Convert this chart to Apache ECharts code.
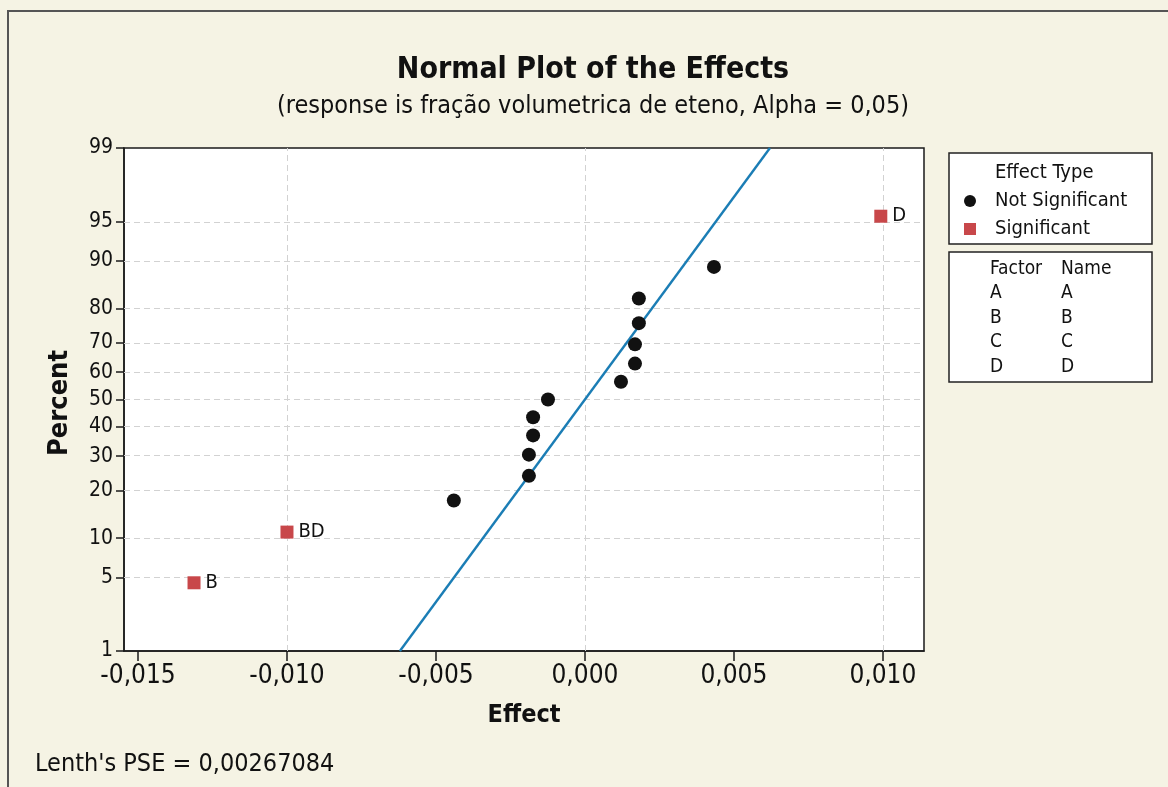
<!DOCTYPE html>
<html>
<head>
<meta charset="utf-8">
<script src="https://cdn.jsdelivr.net/npm/echarts@6/dist/echarts.min.js"></script>
<style>
html,body{margin:0;padding:0;background:#f5f3e4;}
#chart{width:1168px;height:787px;}
</style>
</head>
<body>
<div id="chart"></div>
<script>
// ---- data ----
const notSigEffects = [-0.0044, -0.00188, -0.00188, -0.00174, -0.00174, -0.00124, 0.00121, 0.00168, 0.00168, 0.00181, 0.00181, 0.00433];
const notSigPercents = [17.5, 24.0, 30.5, 37.0, 43.5, 50.0, 56.5, 63.0, 69.5, 76.0, 82.5, 89.0];
const sigNames = ['B', 'BD', 'D'];
const sigEffects = [-0.01312, -0.0100, 0.00993];
const sigPercents = [4.5, 11.0, 95.5];
const fitLineEffects = [-0.00621, 0.00621];
const fitLinePercents = [1, 99];
const yTickPercents = [1, 5, 10, 20, 30, 40, 50, 60, 70, 80, 90, 95, 99];
const xTickValues = [-0.015, -0.010, -0.005, 0.000, 0.005, 0.010];
const xGridValues = [-0.015, -0.0125, -0.010, -0.0075, -0.005, -0.0025, 0, 0.0025, 0.005, 0.0075, 0.010];
const factors = ['A', 'B', 'C', 'D'];
const factorNames = ['A', 'B', 'C', 'D'];
const lenthPSE = '0,00267084';

// inverse normal CDF (probability scale transform)
function probit(p) {
  const a = [-3.969683028665376e+01, 2.209460984245205e+02, -2.759285104469687e+02, 1.383577518672690e+02, -3.066479806614716e+01, 2.506628277459239e+00];
  const b = [-5.447609879822406e+01, 1.615858368580409e+02, -1.556989798598866e+02, 6.680131188771972e+01, -1.328068155288572e+01];
  const c = [-7.784894002430293e-03, -3.223964580411365e-01, -2.400758277161838e+00, -2.549732539343734e+00, 4.374664141464968e+00, 2.938163982698783e+00];
  const d = [7.784695709041462e-03, 3.224671290700398e-01, 2.445134137142996e+00, 3.754408661907416e+00];
  const pl = 0.02425;
  let q, r;
  if (p < pl) { q = Math.sqrt(-2 * Math.log(p)); return (((((c[0]*q+c[1])*q+c[2])*q+c[3])*q+c[4])*q+c[5]) / ((((d[0]*q+d[1])*q+d[2])*q+d[3])*q+1); }
  if (p > 1 - pl) { q = Math.sqrt(-2 * Math.log(1 - p)); return -(((((c[0]*q+c[1])*q+c[2])*q+c[3])*q+c[4])*q+c[5]) / ((((d[0]*q+d[1])*q+d[2])*q+d[3])*q+1); }
  q = p - 0.5; r = q * q;
  return (((((a[0]*r+a[1])*r+a[2])*r+a[3])*r+a[4])*r+a[5])*q / (((((b[0]*r+b[1])*r+b[2])*r+b[3])*r+b[4])*r+1);
}
const z = pct => probit(pct / 100);
const yTickZ = yTickPercents.map(z);

const FONT = '"DejaVu Sans Condensed", "DejaVu Sans", sans-serif';
const chart = echarts.init(document.getElementById('chart'));

const legendX = 949, legendW = 203;
const graphics = [
  { type: 'rect', shape: { x: 8, y: 11, width: 1180, height: 800 }, style: { fill: 'none', stroke: '#555', lineWidth: 2 }, silent: true },
  { type: 'text', x: 593, y: 70, style: { text: 'Normal Plot of the Effects', font: 'bold 30px ' + FONT, fill: '#111', align: 'center', verticalAlign: 'middle' } },
  { type: 'text', x: 593, y: 106, style: { text: '(response is fração volumetrica de eteno, Alpha = 0,05)', font: '25px ' + FONT, fill: '#111', align: 'center', verticalAlign: 'middle' } },
  { type: 'text', x: 60, y: 403, rotation: Math.PI / 2, style: { text: 'Percent', font: 'bold 27px ' + FONT, fill: '#111', align: 'center', verticalAlign: 'middle' } },
  { type: 'text', x: 524, y: 715, style: { text: 'Effect', font: 'bold 25px ' + FONT, fill: '#111', align: 'center', verticalAlign: 'middle' } },
  { type: 'text', x: 35, y: 764, style: { text: "Lenth's PSE = " + lenthPSE, font: '25px ' + FONT, fill: '#111', align: 'left', verticalAlign: 'middle' } },
  // legend box 1
  { type: 'rect', shape: { x: legendX, y: 153, width: legendW, height: 91 }, style: { fill: '#fff', stroke: '#222', lineWidth: 1.5 } },
  { type: 'text', x: 995, y: 173, style: { text: 'Effect Type', font: '20px ' + FONT, fill: '#111', verticalAlign: 'middle' } },
  { type: 'circle', shape: { cx: 970, cy: 201, r: 6 }, style: { fill: '#111' } },
  { type: 'text', x: 995, y: 201, style: { text: 'Not Significant', font: '20px ' + FONT, fill: '#111', verticalAlign: 'middle' } },
  { type: 'rect', shape: { x: 964, y: 223, width: 12, height: 12 }, style: { fill: '#c8474a' } },
  { type: 'text', x: 995, y: 229, style: { text: 'Significant', font: '20px ' + FONT, fill: '#111', verticalAlign: 'middle' } },
  // legend box 2
  { type: 'rect', shape: { x: legendX, y: 252, width: legendW, height: 130 }, style: { fill: '#fff', stroke: '#222', lineWidth: 1.5 } },
  { type: 'text', x: 990, y: 269, style: { text: 'Factor', font: '19px ' + FONT, fill: '#111', verticalAlign: 'middle' } },
  { type: 'text', x: 1061, y: 269, style: { text: 'Name', font: '19px ' + FONT, fill: '#111', verticalAlign: 'middle' } }
];
factors.forEach((f, i) => {
  graphics.push({ type: 'text', x: 990, y: 293 + i * 24.7, style: { text: f, font: '19px ' + FONT, fill: '#111', verticalAlign: 'middle' } });
  graphics.push({ type: 'text', x: 1061, y: 293 + i * 24.7, style: { text: factorNames[i], font: '19px ' + FONT, fill: '#111', verticalAlign: 'middle' } });
});

const gridLineStyle = { color: '#d2d2d2', type: [6, 4], width: 1 };

const option = {
  backgroundColor: '#f5f3e4',
  animation: false,
  grid: { left: 124, top: 148, width: 800, height: 503, show: true, backgroundColor: '#ffffff', borderColor: '#1a1a1a', borderWidth: 1.5, containLabel: false },
  xAxis: {
    type: 'value', min: -0.01547, max: 0.01138,
    axisLine: { show: true, onZero: false, lineStyle: { color: '#1a1a1a', width: 1.5 } },
    splitLine: { show: false },
    axisTick: { show: true, length: 10, lineStyle: { color: '#1a1a1a', width: 1.5 }, customValues: xTickValues },
    axisLabel: { customValues: xTickValues, fontSize: 26, fontFamily: FONT, color: '#111', margin: 12,
      formatter: v => (v < 0 ? '-' : '') + Math.abs(v).toFixed(3).replace('.', ',') }
  },
  yAxis: {
    type: 'value', min: z(1), max: z(99),
    axisLine: { show: true, onZero: false, lineStyle: { color: '#1a1a1a', width: 1.5 } },
    splitLine: { show: false },
    axisTick: { show: true, length: 8, lineStyle: { color: '#1a1a1a', width: 1.5 }, customValues: yTickZ },
    axisLabel: { customValues: yTickZ, fontSize: 21, fontFamily: FONT, color: '#111', margin: 11,
      formatter: v => { let best = 0; yTickZ.forEach((t, i) => { if (Math.abs(t - v) < Math.abs(yTickZ[best] - v)) best = i; }); return String(yTickPercents[best]); } }
  },
  graphic: graphics,
  series: [
    {
      type: 'line', name: 'grid', data: [], silent: true, z: 1,
      markLine: {
        silent: true, z: 1, symbol: 'none', label: { show: false }, lineStyle: gridLineStyle, animation: false,
        emphasis: { disabled: true },
        data: xGridValues.map(v => ({ xAxis: v })).concat(yTickPercents.slice(1, -1).map(p => ({ yAxis: z(p) })))
      }
    },
    {
      type: 'line', name: 'fit', z: 3, symbol: 'none',
      data: fitLineEffects.map((e, i) => [e, z(fitLinePercents[i])]),
      lineStyle: { color: '#1b7db5', width: 2.4 }
    },
    {
      type: 'scatter', name: 'Not Significant', z: 4, symbol: 'circle', symbolSize: 14,
      itemStyle: { color: '#111', opacity: 1 },
      data: notSigEffects.map((e, i) => [e, z(notSigPercents[i])])
    },
    {
      type: 'scatter', name: 'Significant', z: 4, symbol: 'rect', symbolSize: 13,
      itemStyle: { color: '#c8474a', opacity: 1 },
      data: sigEffects.map((e, i) => ({ value: [e, z(sigPercents[i])], name: sigNames[i] })),
      label: { show: true, position: 'right', distance: 5, formatter: p => p.name, fontSize: 20, fontFamily: FONT, color: '#111' }
    }
  ]
};
chart.setOption(option);
</script>
</body>
</html>
